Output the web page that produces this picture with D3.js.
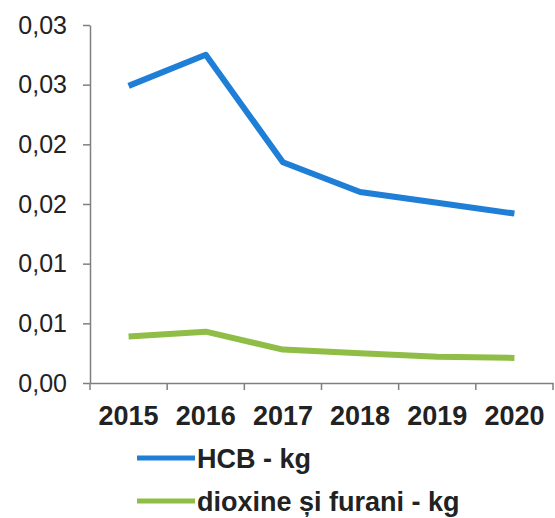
<!DOCTYPE html>
<html>
<head>
	<meta charset="utf-8">
	<script src="https://d3js.org/d3.v7.min.js"></script>
	<style>
		body { margin: 0; background: #fff; }
		.axis path, .axis line { stroke: #7f7f7f; stroke-width: 1.5px; }
		.yaxis text { font-family: "Liberation Sans", Arial, sans-serif; font-size: 25px; fill: #222; }
		.xaxis text { font-family: "Liberation Sans", Arial, sans-serif; font-size: 27px; font-weight: bold; fill: #222; }
		.legend text { font-family: "Liberation Sans", Arial, sans-serif; font-size: 27px; font-weight: bold; fill: #222; }
	</style>
</head>
<body>
	<script>
		// chart data
		var years = ["2015", "2016", "2017", "2018", "2019", "2020"];
		var hcb = [0.0249, 0.0275, 0.0185, 0.0160, 0.0151, 0.0142];
		var dioxine = [0.0039, 0.0043, 0.0028, 0.0025, 0.0022, 0.0021];
		var seriesNames = ["HCB - kg", "dioxine și furani - kg"];
		var seriesColors = ["#1f7fd6", "#8fbd45"];
		var yTicks = [0, 0.005, 0.01, 0.015, 0.02, 0.025, 0.03];
		var yTickLabels = ["0,00", "0,01", "0,01", "0,02", "0,02", "0,03", "0,03"];

		var width = 555;
		var height = 518;
		var margin = { top: 25, right: 2, bottom: 135, left: 90 };

		var svg = d3.select("body")
			.append("svg")
			.attr("width", width)
			.attr("height", height);

		// scales
		var xScale = d3.scaleBand()
			.domain(years)
			.range([margin.left, 553]);
		var yScale = d3.scaleLinear()
			.domain([0, 0.03])
			.range([383, margin.top]);

		// y axis
		svg.append("g")
			.attr("class", "axis yaxis")
			.attr("transform", "translate(" + [margin.left, 0] + ")")
			.call(d3.axisLeft(yScale)
				.tickValues(yTicks)
				.tickFormat(function(d, i) { return yTickLabels[i]; })
				.tickSize(7)
				.tickSizeOuter(0)
				.tickPadding(16));

		// x axis (labels centred, ticks on the band edges)
		var xAxis = svg.append("g")
			.attr("class", "axis xaxis")
			.attr("transform", "translate(" + [0, yScale(0)] + ")")
			.call(d3.axisBottom(xScale)
				.tickSize(0)
				.tickSizeOuter(0)
				.tickPadding(23));
		xAxis.selectAll(".edge")
			.data(d3.range(years.length + 1))
			.enter()
			.append("line")
			.attr("class", "edge")
			.attr("x1", function(i) { return margin.left + i * xScale.step(); })
			.attr("x2", function(i) { return margin.left + i * xScale.step(); })
			.attr("y1", 0)
			.attr("y2", 7);

		// lines
		var line = d3.line()
			.x(function(d, i) { return xScale(years[i]) + xScale.bandwidth() / 2; })
			.y(function(d) { return yScale(d); });

		[hcb, dioxine].forEach(function(values, k) {
			svg.append("path")
				.datum(values)
				.attr("d", line)
				.attr("fill", "none")
				.attr("stroke", seriesColors[k])
				.attr("stroke-width", 6)
				.attr("stroke-linejoin", "round");
		});

		// legend
		var legend = svg.append("g").attr("class", "legend");
		seriesNames.forEach(function(name, k) {
			var y = 458 + k * 43;
			legend.append("line")
				.attr("x1", 137)
				.attr("x2", 195)
				.attr("y1", y)
				.attr("y2", y)
				.attr("stroke", seriesColors[k])
				.attr("stroke-width", 5);
			legend.append("text")
				.attr("x", 197)
				.attr("y", y + 10)
				.text(name);
		});
	</script>
</body>
</html>
